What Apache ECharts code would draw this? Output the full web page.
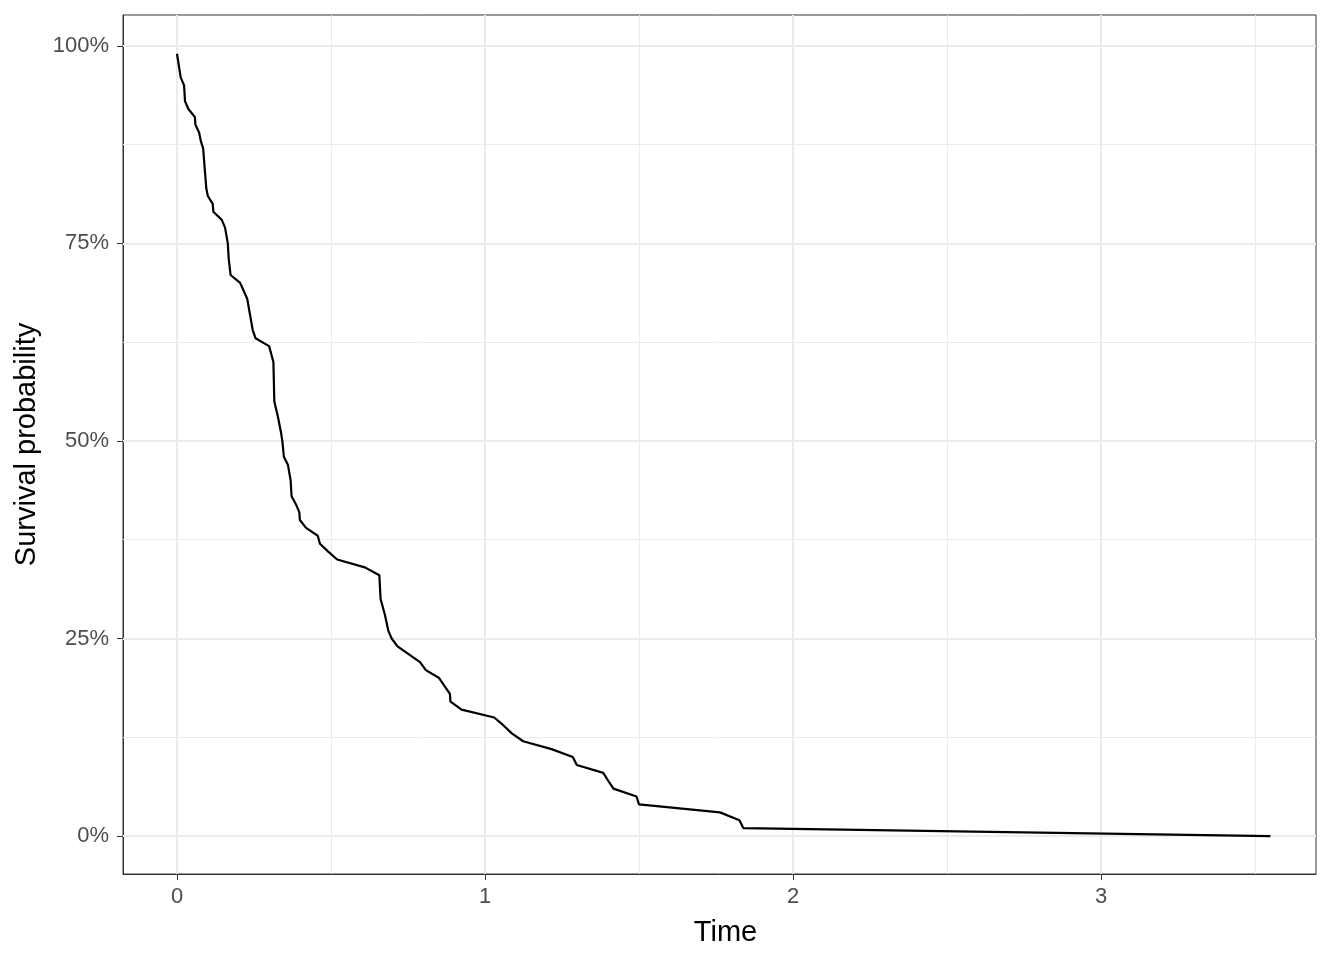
<!DOCTYPE html>
<html>
<head>
<meta charset="utf-8">
<script src="https://cdn.jsdelivr.net/npm/echarts@6/dist/echarts.min.js"></script>
<style>
  html, body { margin: 0; padding: 0; background: #ffffff; }
  #chart { width: 1344px; height: 960px; }
</style>
</head>
<body>
<div id="chart"></div>
<script>
// Time values (x) of the survival curve vertices
const times = [0, 0.012, 0.023, 0.026, 0.037, 0.058, 0.060, 0.072, 0.077, 0.085,
  0.095, 0.100, 0.116, 0.118, 0.145, 0.156, 0.165, 0.168, 0.174, 0.205,
  0.228, 0.237, 0.246, 0.255, 0.299, 0.313, 0.316, 0.328, 0.338, 0.342,
  0.347, 0.360, 0.369, 0.372, 0.386, 0.397, 0.399, 0.419, 0.457, 0.464,
  0.491, 0.520, 0.610, 0.657, 0.661, 0.675, 0.686, 0.697, 0.716, 0.789,
  0.808, 0.851, 0.886, 0.888, 0.924, 1.030, 1.060, 1.087, 1.124, 1.216,
  1.285, 1.298, 1.384, 1.400, 1.417, 1.492, 1.500, 1.763, 1.826, 1.839,
  3.55];
// Survival probability in percent at each vertex
const survival = [99, 96, 95, 93, 92, 91, 90, 89, 88, 87,
  82, 81, 80, 79, 78, 77, 75, 73, 71, 70,
  68, 66, 64, 63, 62, 60, 55, 53, 51, 50,
  48, 47, 45, 43, 42, 41, 40, 39, 38, 37,
  36, 35, 34, 33, 30, 28, 26, 25, 24, 22,
  21, 20, 18, 17, 16, 15, 14, 13, 12, 11,
  10, 9, 8, 7, 6, 5, 4, 3, 2, 1,
  0];
// Tick / gridline positions
const xMajor = [0, 1, 2, 3];
const xMinor = [0.5, 1.5, 2.5, 3.5];
const yMajor = [0, 25, 50, 75, 100];
const yMinor = [12.5, 37.5, 62.5, 87.5];

const curve = times.map((t, i) => [t, survival[i]]);

const gridCol = '#ebebeb';
const textCol = '#4d4d4d';
const darkCol = '#333333';
const fontFam = 'Liberation Sans, Arial, Helvetica, sans-serif';

const gridLines = [];
xMinor.forEach(v => gridLines.push({ xAxis: v, lineStyle: { color: gridCol, width: 1, type: 'solid' } }));
yMinor.forEach(v => gridLines.push({ yAxis: v, lineStyle: { color: gridCol, width: 1, type: 'solid' } }));
xMajor.forEach(v => gridLines.push({ xAxis: v, lineStyle: { color: gridCol, width: 2, type: 'solid' } }));
yMajor.forEach(v => gridLines.push({ yAxis: v, lineStyle: { color: gridCol, width: 2, type: 'solid' } }));

const chart = echarts.init(document.getElementById('chart'), null, { renderer: 'canvas' });
chart.setOption({
  animation: false,
  backgroundColor: '#ffffff',
  grid: {
    left: 123, right: 28, top: 15, bottom: 86,
    show: true, borderColor: darkCol, borderWidth: 1, backgroundColor: 'transparent'
  },
  xAxis: {
    type: 'value',
    min: -0.1753, max: 3.698,
    name: 'Time',
    nameLocation: 'middle',
    nameGap: 44,
    nameTextStyle: { color: '#000000', fontSize: 29, fontFamily: fontFam, padding: [0, 0, 0, 12] },
    axisLine: { show: true, onZero: false, lineStyle: { color: darkCol, width: 1 } },
    axisTick: { show: true, length: 6, customValues: xMajor, lineStyle: { color: darkCol, width: 1 } },
    axisLabel: { show: true, customValues: xMajor, color: textCol, fontSize: 22, fontFamily: fontFam, margin: 12,
      formatter: v => String(v) },
    splitLine: { show: false }
  },
  yAxis: {
    type: 'value',
    min: -4.8, max: 103.9,
    name: 'Survival probability',
    nameLocation: 'middle',
    nameGap: 82,
    nameRotate: 90,
    nameTextStyle: { color: '#000000', fontSize: 29, fontFamily: fontFam },
    axisLine: { show: true, onZero: false, lineStyle: { color: darkCol, width: 1 } },
    axisTick: { show: true, length: 6, customValues: yMajor, lineStyle: { color: darkCol, width: 1 } },
    axisLabel: { show: true, customValues: yMajor, color: textCol, fontSize: 22, fontFamily: fontFam, margin: 14,
      formatter: v => v + '%' },
    splitLine: { show: false }
  },
  series: [
    {
      name: 'grid',
      type: 'line',
      data: [],
      silent: true,
      z: 1,
      markLine: {
        silent: true,
        symbol: ['none', 'none'],
        label: { show: false },
        emphasis: { disabled: true },
        animation: false,
        data: gridLines
      }
    },
    {
      name: 'Survival',
      type: 'line',
      data: curve,
      z: 5,
      showSymbol: false,
      symbol: 'none',
      lineStyle: { color: '#000000', width: 2.2 },
      itemStyle: { color: '#000000' }
    }
  ]
});
</script>
</body>
</html>
